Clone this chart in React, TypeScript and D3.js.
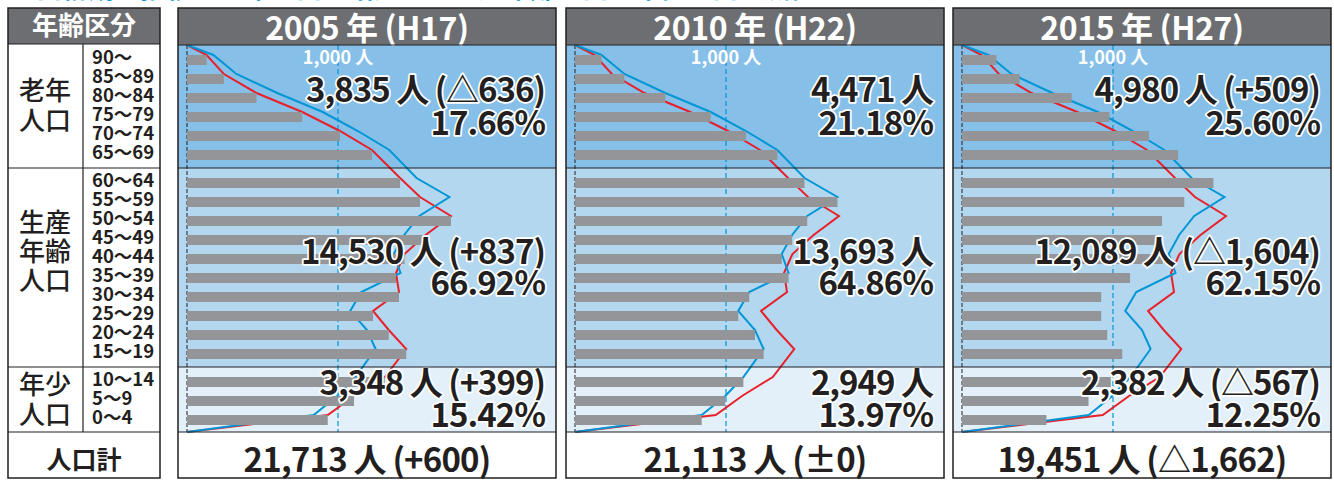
import React from 'react';
import * as d3 from 'd3';

// ---------- data ----------
const ageGroups = [
  '90～', '85～89', '80～84', '75～79', '70～74', '65～69',
  '60～64', '55～59', '50～54', '45～49', '40～44', '35～39', '30～34', '25～29', '20～24', '15～19',
  '10～14', '5～9', '0～4',
];
const groupNames = [['老年', '人口'], ['生産', '年齢', '人口'], ['年少', '人口']];
const groupSizes = [6, 10, 3];

const pop2005 = [130, 244, 460, 763, 1013, 1225, 1411, 1543, 1748, 1580, 1440, 1384, 1404, 1232, 1336, 1452, 1310, 1106, 932];
const pop2010 = [175, 327, 598, 899, 1132, 1340, 1520, 1738, 1538, 1438, 1369, 1414, 1154, 1081, 1192, 1249, 1115, 995, 839];
const pop2015 = [228, 381, 726, 976, 1238, 1431, 1665, 1472, 1325, 1318, 1329, 1113, 922, 922, 962, 1061, 985, 838, 559];

const yearLabels = ['2005 年 (H17)', '2010 年 (H22)', '2015 年 (H27)'];
const elderlyText = ['3,835 人 (△636)', '4,471 人', '4,980 人 (+509)'];
const elderlyPct = ['17.66%', '21.18%', '25.60%'];
const workingText = ['14,530 人 (+837)', '13,693 人', '12,089 人 (△1,604)'];
const workingPct = ['66.92%', '64.86%', '62.15%'];
const youngText = ['3,348 人 (+399)', '2,949 人', '2,382 人 (△567)'];
const youngPct = ['15.42%', '13.97%', '12.25%'];
const totalText = ['21,713 人 (+600)', '21,113 人 (±0)', '19,451 人 (△1,662)'];
const refTick = 1000;
const refLabel = '1,000 人';
const tableHeader = '年齢区分';
const totalLabel = '人口計';
const titleText = '人口構成の推移：老年人口は増加し、生産年齢人口と年少人口は減少しています。';

// ---------- layout ----------
const W = 1334;
const H = 481;
const FONT = "'Noto Sans CJK JP','Noto Sans',sans-serif";
const TOP = 8;
const HEAD_B = 45;
const bandTops = [45, 168, 367];
const BAND_B = 432;
const BOTTOM = 478;
const bandColors = ['#86BFE8', '#B4D7F0', '#E3F0FA'];
const panelX = [178, 566, 953];
const PANEL_W = 378;
const DARK = '#231F20';
const HEADER_GREY = '#6D6E71';
const BAR_GREY = '#939598';
const RED = '#E8202A';
const BLUE = '#0096D6';

const groupStart = groupSizes.map((_, g) => d3.sum(groupSizes.slice(0, g)));
const groupScales = groupSizes.map((n, g) =>
  d3.scalePoint<string>()
    .domain(ageGroups.slice(groupStart[g], groupStart[g] + n))
    .range([bandTops[g] + 15, bandTops[g] + 15 + 19 * (n - 1)])
);
function yCenter(i: number): number {
  let g = 0;
  while (g < groupSizes.length - 1 && i >= groupStart[g] + groupSizes[g]) g++;
  return groupScales[g](ageGroups[i]) as number;
}

const panels = [pop2005, pop2010, pop2015];

function OutText(props: any) {
  const { children, ...rest } = props;
  return (
    <text
      fontFamily={FONT}
      fontWeight={700}
      fill={DARK}
      stroke="#fff"
      strokeWidth={3.5}
      strokeLinejoin="round"
      style={{ paintOrder: 'stroke' } as any}
      {...rest}
    >
      {children}
    </text>
  );
}

function Panel({ p }: { p: number }) {
  const px = panelX[p];
  const origin = px + 9;
  const x = d3.scaleLinear().domain([0, refTick]).range([origin, origin + 151]);
  const bars = panels[p];
  const lineGen = d3.line<{ v: number; y: number }>().x(d => x(d.v)).y(d => d.y);
  const pts = (vals: number[]) => [
    { v: 0, y: HEAD_B },
    ...vals.map((v, i) => ({ v, y: yCenter(i) - 5 })),
    { v: 0, y: BAND_B },
  ];
  const right = px + PANEL_W - 11;
  const bandTexts = [
    [elderlyText[p], elderlyPct[p], 102, 135],
    [workingText[p], workingPct[p], 264, 295],
    [youngText[p], youngPct[p], 395, 427],
  ];
  return (
    <g>
      <rect x={px} y={TOP} width={PANEL_W} height={HEAD_B - TOP} fill={HEADER_GREY} />
      {bandTops.map((t, g) => (
        <rect key={g} x={px} y={t} width={PANEL_W}
          height={(g < 2 ? bandTops[g + 1] : BAND_B) - t} fill={bandColors[g]} />
      ))}
      <rect x={px} y={BAND_B} width={PANEL_W} height={BOTTOM - BAND_B} fill="#fff" />
      <line x1={origin} x2={origin} y1={HEAD_B} y2={BAND_B} stroke={DARK} strokeWidth={1} strokeDasharray="4 2" />
      <line x1={x(refTick)} x2={x(refTick)} y1={HEAD_B} y2={BAND_B} stroke={BLUE} strokeWidth={1.2} strokeDasharray="5 3" />
      <path d={lineGen(pts(pop2005)) || ''} fill="none" stroke={RED} strokeWidth={2} strokeLinejoin="miter" />
      <path d={lineGen(pts(pop2010)) || ''} fill="none" stroke={BLUE} strokeWidth={2} strokeLinejoin="miter" />
      {bars.map((v, i) => (
        <rect key={i} x={origin} y={yCenter(i) - 5} width={x(v) - origin} height={10} fill={BAR_GREY} />
      ))}
      <text x={x(refTick)} y={64} textAnchor="middle" fontFamily={FONT} fontWeight={600} fontSize={18} fill="#fff">{refLabel}</text>
      {bandTexts.map((bt, k) => (
        <g key={k}>
          <OutText x={right} y={bt[2]} textAnchor="end" fontSize={33} letterSpacing={-1}>{bt[0]}</OutText>
          <OutText x={right} y={bt[3]} textAnchor="end" fontSize={33} letterSpacing={-1}>{bt[1]}</OutText>
        </g>
      ))}
      <text x={px + PANEL_W / 2} y={40} textAnchor="middle" fontFamily={FONT} fontWeight={700} fontSize={32} letterSpacing={-0.4} fill="#fff">{yearLabels[p]}</text>
      <text x={px + PANEL_W / 2} y={472} textAnchor="middle" fontFamily={FONT} fontWeight={700} fontSize={33} letterSpacing={-0.8} fill={DARK}>{totalText[p]}</text>
      {[HEAD_B, bandTops[1], bandTops[2], BAND_B].map((yy, k) => (
        <line key={k} x1={px} x2={px + PANEL_W} y1={yy} y2={yy} stroke={DARK} strokeWidth={1.2} />
      ))}
      <rect x={px} y={TOP} width={PANEL_W} height={BOTTOM - TOP} fill="none" stroke={DARK} strokeWidth={1.5} />
    </g>
  );
}

function LeftTable() {
  const L = 8, R = 160, DIV = 83;
  const groupBaselines = [[100, 130], [232, 261, 290], [394, 424]];
  return (
    <g>
      <rect x={L} y={TOP} width={R - L} height={HEAD_B - TOP - 1} fill={HEADER_GREY} />
      <text x={(L + R) / 2} y={35} textAnchor="middle" fontFamily={FONT} fontWeight={700} fontSize={26} fill="#fff">{tableHeader}</text>
      {groupNames.map((lines, g) => lines.map((s, k) => (
        <text key={g + '-' + k} x={45} y={groupBaselines[g][k]} textAnchor="middle" fontFamily={FONT} fontWeight={500} fontSize={26} fill={DARK}>{s}</text>
      )))}
      {ageGroups.map((a, i) => (
        <text key={a} x={92} y={yCenter(i) + 4} fontFamily={FONT} fontWeight={700} fontSize={18.5} fill={DARK}>{a}</text>
      ))}
      <text x={(L + R) / 2} y={469} textAnchor="middle" fontFamily={FONT} fontWeight={700} fontSize={25} fill={DARK}>{totalLabel}</text>
      {[HEAD_B - 1, bandTops[1], bandTops[2], BAND_B].map((yy, k) => (
        <line key={k} x1={L} x2={R} y1={yy} y2={yy} stroke={DARK} strokeWidth={1.2} />
      ))}
      <line x1={DIV} x2={DIV} y1={HEAD_B - 1} y2={BAND_B} stroke={DARK} strokeWidth={1.2} />
      <rect x={L} y={TOP} width={R - L} height={BOTTOM - TOP} fill="none" stroke={DARK} strokeWidth={1.5} />
    </g>
  );
}

export default function App() {
  return (
    <svg width={W} height={H} viewBox={`0 0 ${W} ${H}`}
      style={{ position: 'absolute', left: 0, top: 0, background: '#fff' }}>
      <text x={10} y={-2} fontFamily={FONT} fontWeight={700} fontSize={26} fill={BLUE}>{titleText}</text>
      <LeftTable />
      {panels.map((_, p) => <Panel key={p} p={p} />)}
    </svg>
  );
}
